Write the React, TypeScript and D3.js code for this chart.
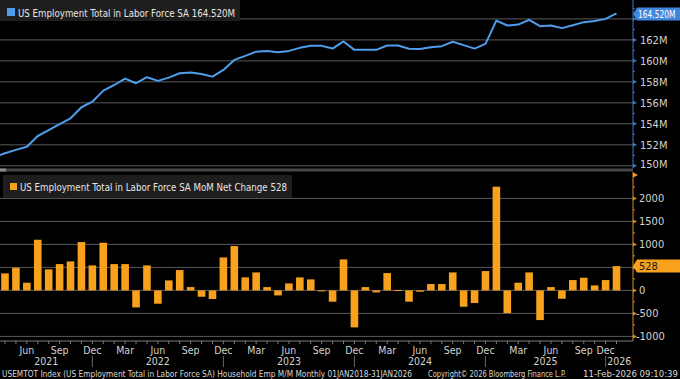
import React from "react";
import * as d3 from "d3";

// Months (line includes Mar 2021, which sits just left of the visible plot)
const lineMonths = [
  "2021-03", "2021-04", "2021-05", "2021-06", "2021-07", "2021-08", "2021-09", "2021-10", "2021-11", "2021-12",
  "2022-01", "2022-02", "2022-03", "2022-04", "2022-05", "2022-06", "2022-07", "2022-08", "2022-09", "2022-10", "2022-11", "2022-12",
  "2023-01", "2023-02", "2023-03", "2023-04", "2023-05", "2023-06", "2023-07", "2023-08", "2023-09", "2023-10", "2023-11", "2023-12",
  "2024-01", "2024-02", "2024-03", "2024-04", "2024-05", "2024-06", "2024-07", "2024-08", "2024-09", "2024-10", "2024-11", "2024-12",
  "2025-01", "2025-02", "2025-03", "2025-04", "2025-05", "2025-06", "2025-07", "2025-08", "2025-09", "2025-11", "2025-12",
  "2026-01",
];
const months = lineMonths.slice(1);

// US Employment Total in Labor Force SA (millions)
const employment = [
  150.83, 151.2, 151.52, 151.81, 152.84, 153.41, 153.98, 154.53, 155.58, 156.11,
  157.16, 157.7, 158.31, 157.87, 158.44, 158.09, 158.4, 158.82, 158.88, 158.75, 158.5, 159.14,
  160.09, 160.47, 160.88, 160.95, 160.83, 160.95, 161.24, 161.43, 161.43, 161.17, 161.85, 161.05,
  161.07, 161.05, 161.46, 161.46, 161.16, 161.14, 161.3, 161.4, 161.82, 161.5, 161.17, 161.62,
  163.84, 163.37, 163.46, 163.91, 163.31, 163.37, 163.12, 163.4, 163.69, 163.79, 164.0,
  164.52,
];

// MoM net change (thousands)
const netChange = [
  370, 493, 167, 1101, 457, 572, 630, 1051, 543,
  1036, 572, 572, -370, 543, -290, 217, 442, 72, -138, -188, 717,
  964, 283, 391, 72, -109, 152, 283, 239, -22, -246, 674, -804,
  72, -43, 377, 8, -246, -29, 138, 138, 391, -355, -275, 420,
  2254, -493, 167, 391, -645, 72, -181, 225, 275, 109, 225,
  528,
];

const monthNames = ["Jan", "Feb", "Mar", "Apr", "May", "Jun", "Jul", "Aug", "Sep", "Oct", "Nov", "Dec"];
const topTicks = [150, 152, 154, 156, 158, 160, 162, 164];
const topLabels = [150, 152, 154, 156, 158, 160, 162];
const topMinor = [151, 153, 155, 157, 159, 161, 163, 165];
const bottomTicks = [-1000, -500, 0, 500, 1000, 1500, 2000];
const bottomMinor = [-750, -250, 250, 750, 1250, 1750, 2250];
const years = ["2021", "2022", "2023", "2024", "2025", "2026"];
const lastEmployment = "164.520M";
const lastChange = "528";
const topTitle = "US Employment Total in Labor Force SA 164.520M";
const bottomTitle = "US Employment Total in Labor Force SA MoM Net Change 528";
const footerLeft = "USEMTOT Index (US Employment Total in Labor Force SA) Household Emp M/M Monthly 01JAN2018-31JAN2026";
const footerMid = "Copyright\u00A9 2026 Bloomberg Finance L.P.";
const footerRight = "11-Feb-2026 09:10:39";

const W = 680;
const H = 379;
const AX = 633;
const FONT = "'Liberation Sans Narrow','DejaVu Sans Condensed','Arial Narrow',sans-serif";
const BLUE = "#4f9ded";
const ORANGE = "#f7a11c";
const GRID = "#5a5a5a";
const TXT = "#d2d2d2";

export default function App() {
  const x = d3.scalePoint<string>().domain(lineMonths).range([-5.92, 616.5]);
  const yTop = d3.scaleLinear().domain([149.6, 165.8]).range([170, 0]);
  const yBot = d3.scaleLinear().domain([-1100, 2600]).range([341, 170.8]);
  const linePath = d3
    .line<number>()
    .x((_, i) => x(lineMonths[i]) as number)
    .y((d) => yTop(d))(employment) as string;
  const barW = 7.6;

  const decX = months.filter((m) => m.endsWith("-12")).map((m) => x(m) as number);
  const bounds = [0, ...decX, AX];

  return (
    <svg
      width={W}
      height={H}
      style={{ position: "absolute", left: 0, top: 0, display: "block", background: "#000" }}
      fontFamily={FONT}
    >
      <defs>
        <clipPath id="plotTop">
          <rect x={0} y={0} width={AX} height={168} />
        </clipPath>
        <clipPath id="plotBot">
          <rect x={0} y={172} width={AX} height={169} />
        </clipPath>
      </defs>
      <rect x={0} y={0} width={W} height={H} fill="#000" />

      {/* top grid */}
      {topTicks.map((t) => (
        <line key={"tg" + t} x1={0} x2={AX} y1={yTop(t)} y2={yTop(t)} stroke={GRID} strokeWidth={1} />
      ))}
      {/* bottom grid */}
      {bottomTicks.map((t) => (
        <line key={"bg" + t} x1={0} x2={AX} y1={yBot(t)} y2={yBot(t)} stroke={GRID} strokeWidth={1} />
      ))}

      {/* line */}
      <g clipPath="url(#plotTop)">
        <path d={linePath} fill="none" stroke={BLUE} strokeWidth={2} strokeLinejoin="round" />
      </g>

      {/* bars */}
      <g clipPath="url(#plotBot)">
        {months.map((m, i) => {
          const v = netChange[i];
          const y0 = yBot(0);
          const y1 = yBot(v);
          return (
            <rect
              key={m}
              x={(x(m) as number) - barW / 2}
              y={Math.min(y0, y1)}
              width={barW}
              height={Math.max(1, Math.abs(y1 - y0))}
              fill={ORANGE}
            />
          );
        })}
      </g>

      {/* separator */}
      <rect x={0} y={168.5} width={AX} height={3} fill="#484848" />
      <rect x={0} y={168.5} width={6} height={3} fill="#8a8a8a" />

      {/* legends */}
      <rect x={0} y={0} width={240} height={21} fill="#1e1e1e" />
      <rect x={7} y={8} width={8} height={8} fill={BLUE} />
      <text x={18} y={16.5} fontSize={11} fill="#e6e6e6" textLength={217} lengthAdjust="spacingAndGlyphs">
        {topTitle}
      </text>
      <rect x={3} y={175} width={289} height={23} fill="#1e1e1e" />
      <rect x={10} y={183} width={7} height={7} fill={ORANGE} />
      <text x={20} y={191} fontSize={11} fill="#e6e6e6" textLength={267} lengthAdjust="spacingAndGlyphs">
        {bottomTitle}
      </text>

      {/* top right axis */}
      <line x1={AX} x2={AX} y1={0} y2={168.5} stroke="#3d78c4" strokeWidth={1} />
      {topMinor.map((t) => (
        <line key={"tm" + t} x1={AX} x2={AX + 2} y1={yTop(t)} y2={yTop(t)} stroke="#3d78c4" />
      ))}
      {topTicks.map((t) => (
        <path
          key={"tk" + t}
          d={`M${AX},${yTop(t) - 2}L${AX + 4},${yTop(t)}L${AX},${yTop(t) + 2}Z`}
          fill="#3d78c4"
        />
      ))}
      {topLabels.map((t) => (
        <text key={"tt" + t} x={640} y={Math.min(yTop(t), 163.8)} dy="0.35em" fontSize={11} fill={TXT}>
          {t + "M"}
        </text>
      ))}
      <path d={`M${AX},14 L637,7.5 H680 V20.5 H637 Z`} fill="#3f86dc" />
      <text x={638} y={14} dy="0.36em" fontSize={10} fill="#ffffff" textLength={37.5} lengthAdjust="spacingAndGlyphs">
        {lastEmployment}
      </text>

      {/* bottom right axis */}
      <line x1={AX} x2={AX} y1={172} y2={341} stroke="#d98f1c" strokeWidth={1} />
      <path d={`M${AX},172.5 L${AX + 5},175 L${AX},177.5 Z`} fill={ORANGE} />
      {bottomMinor.map((t) => (
        <line key={"bm" + t} x1={AX} x2={AX + 2} y1={yBot(t)} y2={yBot(t)} stroke="#d98f1c" />
      ))}
      {bottomTicks.map((t) => (
        <g key={"bt" + t}>
          <path d={`M${AX},${yBot(t) - 2}L${AX + 4},${yBot(t)}L${AX},${yBot(t) + 2}Z`} fill="#d98f1c" />
          <text x={t < 0 ? 636 : 639} y={yBot(t)} dy="0.35em" fontSize={11} fill={TXT}>
            {String(t)}
          </text>
        </g>
      ))}
      <path
        d={`M${AX},${yBot(528)} L637,${yBot(528) - 6.5} H680 V${yBot(528) + 6.5} H637 Z`}
        fill={ORANGE}
      />
      <text x={639} y={yBot(528)} dy="0.36em" fontSize={11} fill="#1a1a1a">
        {lastChange}
      </text>

      {/* x axis */}
      <line x1={0} x2={AX} y1={341} y2={341} stroke="#7a7a7a" strokeWidth={1} />
      {months.map((m) => (
        <line key={"xt" + m} x1={x(m) as number} x2={x(m) as number} y1={341} y2={344} stroke="#7a7a7a" />
      ))}
      {months
        .filter((m) => [3, 6, 9, 12].includes(+m.slice(5)))
        .map((m) => (
          <text key={"ml" + m} x={x(m) as number} y={354} textAnchor="middle" fontSize={10.5} fill={TXT}>
            {monthNames[+m.slice(5) - 1]}
          </text>
        ))}
      {decX.map((dx, i) => (
        <line key={"ys" + i} x1={dx} x2={dx} y1={356} y2={367} stroke="#666" />
      ))}
      {years.map((yr, i) => (
        <text key={yr} x={(bounds[i] + bounds[i + 1]) / 2} y={365} textAnchor="middle" fontSize={10.5} fill={TXT}>
          {yr}
        </text>
      ))}

      {/* footer */}
      <text x={2} y={376.5} fontSize={8.6} fill="#d8d8d8" textLength={410} lengthAdjust="spacingAndGlyphs">
        {footerLeft}
      </text>
      <text x={428} y={376.5} fontSize={8.6} fill="#d8d8d8" textLength={138} lengthAdjust="spacingAndGlyphs">
        {footerMid}
      </text>
      <text x={583} y={376.5} fontSize={8.6} fill="#d8d8d8" textLength={95} lengthAdjust="spacingAndGlyphs">
        {footerRight}
      </text>
    </svg>
  );
}
